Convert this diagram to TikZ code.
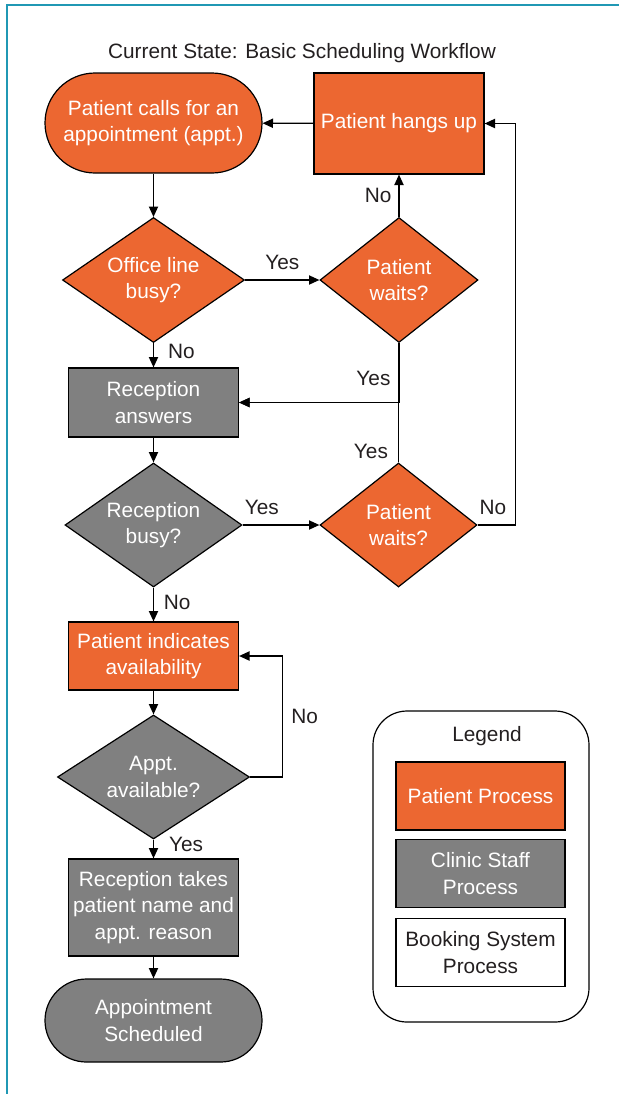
\documentclass[tikz,border=0pt]{standalone}
\usepackage{fontspec}
\setmainfont{Liberation Sans}
\usetikzlibrary{arrows.meta,shapes.geometric}

\definecolor{ptorange}{HTML}{EC6731}
\definecolor{stgray}{HTML}{808080}
\definecolor{frameteal}{HTML}{2098B4}
\definecolor{inkblack}{HTML}{231F20}

\begin{document}
\begin{tikzpicture}[->,>={Triangle[length=5.2pt,width=4.6pt]},x=0.5pt,y=-0.5pt,
    line width=0.6pt,font=\fontsize{10.4}{13.2}\selectfont,
    term node/.style={rectangle,rounded corners=25pt,draw,align=center,
      minimum width=108.5pt,minimum height=50pt,inner sep=1pt},
    box node/.style={rectangle,draw,align=center,
      minimum width=85pt,minimum height=34.5pt,inner sep=1pt},
    dec node/.style={diamond,draw,align=center,aspect=1.4,inner sep=0pt,
      minimum width=91pt,minimum height=62.5pt},
    pat/.style={fill=ptorange,text=white},
    staff/.style={fill=stgray,text=white},
    yn/.style={text=inkblack,inner sep=1pt}]

    \useasboundingbox (0,0) rectangle (619,1094);
    \draw[-,frameteal,line width=1pt] (7,1094) -- (7,5) -- (619,5);

    \node[text=inkblack] (TITLE) at (302,53) {Current State: Basic Scheduling Workflow};

    \node[term node,pat] (CALL) at (153.5,123) {Patient calls for an\\appointment (appt.)};
    \node[dec node,pat] (OLB) [node distance=78.5pt, below of=CALL] {Office line\\busy?};
    \node[box node,staff] (RA) [node distance=61.25pt, below of=OLB] {Reception\\answers};
    \node[dec node,staff,minimum width=88.5pt,minimum height=62pt] (RB)
      [node distance=61.25pt, below of=RA] {Reception\\busy?};
    \node[box node,pat,minimum height=34pt] (PIA) [node distance=65.5pt, below of=RB]
      {Patient indicates\\availability};
    \node[dec node,staff,minimum width=96pt,minimum height=62pt] (AA)
      [node distance=60.5pt, below of=PIA] {Appt.\\available?};
    \node[box node,staff,minimum height=48.5pt] (RT) [node distance=65.25pt, below of=AA]
      {Reception takes\\patient name and\\appt. reason};
    \node[term node,staff,minimum height=41.5pt,rounded corners=20.75pt] (AS)
      [node distance=56.5pt, below of=RT] {Appointment\\Scheduled};

    \node[dec node,pat,minimum width=79pt] (PW1) [node distance=122.75pt, right of=OLB]
      {Patient\\waits?};
    \node[box node,pat,minimum height=50.5pt] (HANG) [node distance=78.25pt, above of=PW1]
      {Patient hangs up};
    \node[dec node,pat,minimum width=78.5pt,minimum height=62pt] (PW2)
      [node distance=122.5pt, right of=RB] {Patient\\waits?};

    % legend
    \node[rectangle,draw,rounded corners=17pt,minimum width=108pt,minimum height=155.5pt]
      (LEG) at (481,866.5) {};
    \node[yn] (LEGT) at (487,736) {Legend};
    \node[box node,pat,minimum width=84.5pt,minimum height=34pt] (LPAT) at (480.5,796)
      {Patient Process};
    \node[box node,staff,minimum width=84.5pt,minimum height=34pt] (LSTF) at (480.5,873.5)
      {Clinic Staff\\Process};
    \node[box node,fill=white,text=inkblack,minimum width=84.5pt,minimum height=34pt]
      (LBOOK) at (480.5,952.5) {Booking System\\Process};

    \path
    (CALL) edge (OLB)
    (OLB) edge node[yn,above=4pt] {Yes} (PW1)
    (PW1) edge node[yn,left=2.5pt] {No} (HANG)
    (HANG) edge (CALL)
    (OLB) edge node[yn,right=6pt,pos=0.35] {No} (RA)
    (RA) edge (RB)
    (RB) edge node[yn,above=4pt,pos=0.25] {Yes} (PW2)
    (RB) edge node[yn,right=3.9pt,pos=0.43] {No} (PIA)
    (PIA) edge (AA)
    (AA) edge node[yn,right=6.5pt,pos=0.25] {Yes} (RT)
    (RT) edge (AS);

    \draw (PW1) |- node[yn,pos=0.3,left=3pt] {Yes} (RA);
    \draw (PW2) |- node[yn,pos=0.09,left=4pt] {Yes} (RA);
    \draw (PW2.east) -- node[yn,above=4pt,pos=0.4] {No} +(38,0) |- (HANG.east);
    \draw (AA.east) -- +(32,0) |- node[yn,pos=0.25,right=3.3pt] {No} (PIA.east);
\end{tikzpicture}
\end{document}
